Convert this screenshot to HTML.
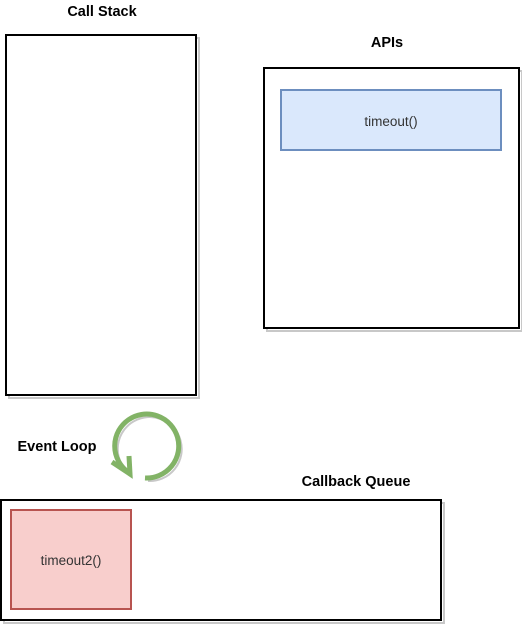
<!DOCTYPE html>
<html><head><meta charset="utf-8"><style>
html,body{margin:0;padding:0;background:#fff;width:522px;height:625px;overflow:hidden}
svg text{font-family:"Liberation Sans",sans-serif}
</style></head><body>
<svg width="522" height="625" viewBox="0 0 522 625" xmlns="http://www.w3.org/2000/svg">
<g fill="none" stroke="#c8c8c8" stroke-width="2">
<rect x="9" y="38" width="190" height="360"/>
<rect x="267" y="71" width="255" height="260"/>
<rect x="284" y="93" width="220" height="60"/>
<rect x="4" y="503" width="440" height="120"/>
<rect x="14" y="513" width="120" height="99"/>
<path d="M131 475 A32 32 0 1 1 148 481"/>
</g>
<rect x="6" y="35" width="190" height="360" fill="#fff" stroke="#000" stroke-width="2"/>
<rect x="264" y="68" width="255" height="260" fill="#fff" stroke="#000" stroke-width="2"/>
<rect x="281" y="90" width="220" height="60" fill="#dae8fc" stroke="#6c8ebf" stroke-width="2"/>
<rect x="1" y="500" width="440" height="120" fill="#fff" stroke="#000" stroke-width="2"/>
<rect x="11" y="510" width="120" height="99" fill="#f8cecc" stroke="#b85450" stroke-width="2"/>
<path d="M128 472 A32 32 0 1 1 145 478" fill="none" stroke="#82b366" stroke-width="5"/>
<path d="M112 462 L130 474 L129 456" fill="none" stroke="#82b366" stroke-width="5" stroke-linejoin="miter"/>
<g font-size="14.5" font-weight="bold" fill="#000" text-anchor="middle">
<text x="102" y="16">Call Stack</text>
<text x="387" y="47">APIs</text>
<text x="57" y="451">Event Loop</text>
<text x="356" y="486">Callback Queue</text>
</g>
<g font-size="13.5" fill="#333" text-anchor="middle">
<text x="391" y="126">timeout()</text>
<text x="71" y="565">timeout2()</text>
</g>
</svg>
</body></html>
